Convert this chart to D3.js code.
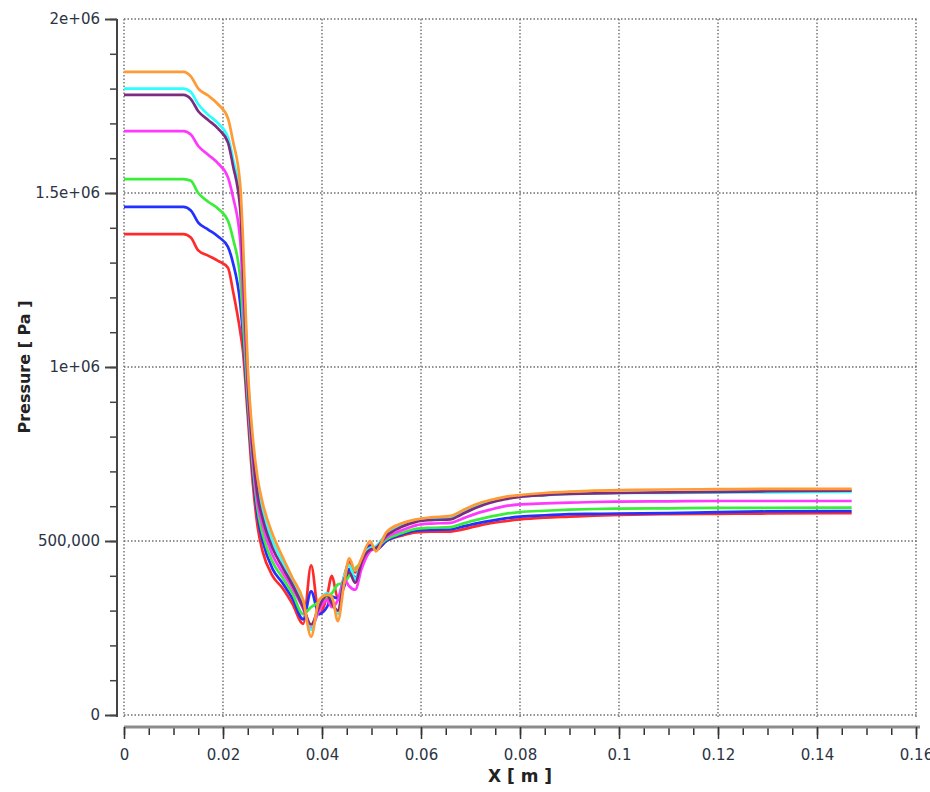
<!DOCTYPE html>
<html>
<head>
<meta charset="utf-8">
<script src="https://cdn.jsdelivr.net/npm/d3@7"></script>
<style>
  body { margin: 0; background: #fff; }
  svg { display: block; }
  .tick text { font-family: "DejaVu Sans", sans-serif; font-size: 15px; fill: #2b3444; }
</style>
</head>
<body>
<svg id="chart"></svg>
<script>
const width = 930, height = 792;

// x positions along the line [m], shared by every series
const xPos = [0, 0.012, 0.0135, 0.015, 0.017, 0.019, 0.021, 0.022, 0.0235, 0.024, 0.025, 0.026, 0.027, 0.028, 0.030, 0.032, 0.034, 0.0362,
  0.0378, 0.0394, 0.041, 0.042, 0.0432, 0.0445, 0.0455, 0.0467, 0.048, 0.0497, 0.0509,
  0.053, 0.056, 0.059, 0.062, 0.066, 0.068, 0.071, 0.074, 0.077, 0.08, 0.085, 0.09, 0.095, 0.10, 0.11, 0.12, 0.13, 0.147];

// pressure in units of 1e6 Pa
const redP = [1.382, 1.382, 1.372, 1.335, 1.32, 1.305, 1.285, 1.22, 1.10, 1.05, 0.86, 0.67, 0.54, 0.47, 0.40, 0.365, 0.32, 0.262,
  0.43, 0.29, 0.34, 0.40, 0.335, 0.40, 0.44, 0.41, 0.43, 0.49, 0.475,
  0.50, 0.515, 0.525, 0.527, 0.527, 0.532, 0.542, 0.551, 0.557, 0.562, 0.567, 0.570, 0.573, 0.575, 0.577, 0.578, 0.579, 0.58];
const blueP = [1.46, 1.46, 1.45, 1.415, 1.395, 1.375, 1.345, 1.30, 1.18, 1.10, 0.89, 0.70, 0.57, 0.50, 0.42, 0.38, 0.335, 0.275,
  0.355, 0.29, 0.31, 0.34, 0.335, 0.37, 0.42, 0.395, 0.43, 0.485, 0.475,
  0.50, 0.518, 0.53, 0.532, 0.533, 0.54, 0.55, 0.558, 0.565, 0.57, 0.574, 0.577, 0.578, 0.579, 0.58, 0.583, 0.585, 0.586];
const greenP = [1.54, 1.54, 1.535, 1.50, 1.475, 1.455, 1.42, 1.37, 1.25, 1.14, 0.91, 0.72, 0.59, 0.52, 0.44, 0.395, 0.35, 0.29,
  0.31, 0.325, 0.34, 0.35, 0.375, 0.38, 0.40, 0.42, 0.44, 0.475, 0.48,
  0.505, 0.522, 0.535, 0.538, 0.54, 0.548, 0.56, 0.57, 0.578, 0.583, 0.587, 0.59, 0.592, 0.593, 0.594, 0.595, 0.595, 0.596];
const magentaP = [1.678, 1.678, 1.668, 1.635, 1.61, 1.585, 1.545, 1.49, 1.36, 1.22, 0.94, 0.74, 0.61, 0.545, 0.46, 0.41, 0.365, 0.305,
  0.25, 0.30, 0.33, 0.31, 0.33, 0.39, 0.37, 0.36, 0.42, 0.47, 0.48,
  0.51, 0.53, 0.545, 0.55, 0.552, 0.562, 0.578, 0.59, 0.60, 0.605, 0.608, 0.61, 0.612, 0.613, 0.614, 0.615, 0.615, 0.615];
const cyanP = [1.80, 1.80, 1.79, 1.755, 1.725, 1.70, 1.66, 1.60, 1.47, 1.33, 0.98, 0.78, 0.655, 0.585, 0.50, 0.44, 0.385, 0.32,
  0.245, 0.32, 0.35, 0.33, 0.29, 0.40, 0.43, 0.39, 0.45, 0.48, 0.485,
  0.52, 0.545, 0.56, 0.565, 0.567, 0.58, 0.60, 0.614, 0.623, 0.628, 0.632, 0.635, 0.637, 0.638, 0.638, 0.639, 0.64, 0.641];
const purpleP = [1.782, 1.782, 1.77, 1.735, 1.71, 1.685, 1.645, 1.58, 1.45, 1.30, 0.96, 0.76, 0.63, 0.565, 0.48, 0.425, 0.375, 0.31,
  0.26, 0.31, 0.345, 0.32, 0.30, 0.39, 0.41, 0.38, 0.44, 0.475, 0.48,
  0.515, 0.54, 0.555, 0.56, 0.562, 0.575, 0.595, 0.61, 0.62, 0.627, 0.632, 0.635, 0.637, 0.638, 0.64, 0.641, 0.643, 0.645];
const orangeP = [1.848, 1.848, 1.835, 1.80, 1.78, 1.755, 1.715, 1.65, 1.52, 1.38, 1.0, 0.80, 0.68, 0.61, 0.52, 0.455, 0.395, 0.33,
  0.225, 0.33, 0.345, 0.34, 0.27, 0.38, 0.45, 0.415, 0.45, 0.50, 0.47,
  0.525, 0.55, 0.562, 0.568, 0.572, 0.585, 0.605, 0.618, 0.627, 0.632, 0.638, 0.642, 0.645, 0.646, 0.648, 0.649, 0.65, 0.65];

const seriesValues = [redP, blueP, greenP, magentaP, cyanP, purpleP, orangeP];
const seriesColors = ["#ff2b2b", "#2330ff", "#38ee38", "#ff38ff", "#2cffff", "#7d2d80", "#ff9a35"];

const xTicks = [0, 0.02, 0.04, 0.06, 0.08, 0.1, 0.12, 0.14, 0.16];
const xTickLabels = ["0", "0.02", "0.04", "0.06", "0.08", "0.1", "0.12", "0.14", "0.16"];
const yTicks = [0, 500000, 1000000, 1500000, 2000000];
const yTickLabels = ["0", "500,000", "1e+06", "1.5e+06", "2e+06"];

const x = d3.scaleLinear().domain([0, 0.16]).range([124, 916]);
const y = d3.scaleLinear().domain([0, 2e6]).range([715, 19]);

const svg = d3.select("#chart").attr("width", width).attr("height", height);

// dotted grid
const grid = svg.append("g").attr("stroke", "#6e6e6e").attr("stroke-width", 1.4).attr("stroke-dasharray", "1.5,2");
grid.selectAll(".vg").data(xTicks).join("line")
    .attr("x1", d => x(d)).attr("x2", d => x(d))
    .attr("y1", y(2e6)).attr("y2", 719);
grid.selectAll(".hg").data(yTicks).join("line")
    .attr("x1", x(0)).attr("x2", 918)
    .attr("y1", d => y(d)).attr("y2", d => y(d));

// y axis: minor ticks first, then major ticks with labels
const yMinor = d3.range(0, 2000001, 100000);
svg.append("g").attr("transform", "translate(117,0)")
    .call(d3.axisLeft(y).tickValues(yMinor).tickSize(7).tickFormat(""))
    .call(g => g.select(".domain").remove())
    .call(g => g.selectAll("line").attr("stroke", "#444").attr("stroke-width", 1.5));
svg.append("g").attr("transform", "translate(117,0)")
    .call(d3.axisLeft(y).tickValues(yTicks).tickSize(12).tickPadding(5)
        .tickFormat((d, i) => yTickLabels[i]))
    .call(g => g.select(".domain").attr("d", `M0,${y(2e6)}V${y(0) + 2}`).attr("stroke", "#444").attr("stroke-width", 2))
    .call(g => g.selectAll("line").attr("stroke", "#444").attr("stroke-width", 2));

// x axis
const xMinor = d3.range(0, 0.1601, 0.005);
svg.append("g").attr("transform", "translate(0,727)")
    .call(d3.axisBottom(x).tickValues(xMinor).tickSize(8).tickFormat(""))
    .call(g => g.select(".domain").remove())
    .call(g => g.selectAll("line").attr("stroke", "#333").attr("stroke-width", 1.5));
svg.append("g").attr("transform", "translate(0,727)")
    .call(d3.axisBottom(x).tickValues(xTicks).tickSize(12).tickPadding(10)
        .tickFormat((d, i) => xTickLabels[i]))
    .call(g => g.select(".domain").attr("d", `M${x(0)},0H${x(0.16) + 4}`).attr("stroke", "#8c8c8c").attr("stroke-width", 3))
    .call(g => g.selectAll("line").attr("stroke", "#333").attr("stroke-width", 1.5));

// lines
const line = d3.line()
    .x((d, i) => x(xPos[i]))
    .y(d => y(d * 1e6))
    .curve(d3.curveMonotoneX);

svg.append("g").selectAll("path")
    .data(seriesValues)
    .join("path")
    .attr("fill", "none")
    .attr("stroke", (d, i) => seriesColors[i])
    .attr("stroke-width", 2.7)
    .attr("stroke-linejoin", "round")
    .attr("d", line);

// axis titles
svg.append("text")
    .attr("x", 520).attr("y", 782)
    .attr("text-anchor", "middle")
    .attr("font-family", "DejaVu Sans, sans-serif")
    .attr("font-size", 17).attr("font-weight", "bold")
    .attr("fill", "#222")
    .text("X [ m ]");

svg.append("text")
    .attr("transform", "translate(30,367) rotate(-90)")
    .attr("text-anchor", "middle")
    .attr("font-family", "DejaVu Sans, sans-serif")
    .attr("font-size", 16).attr("font-weight", "bold")
    .attr("fill", "#222")
    .text("Pressure [ Pa ]");
</script>
</body>
</html>
